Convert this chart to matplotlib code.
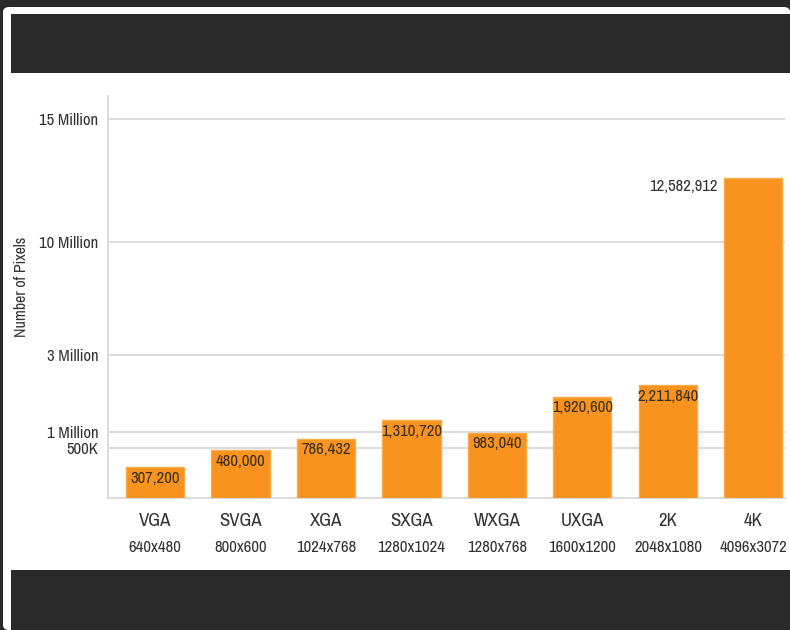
import numpy as np
import matplotlib
matplotlib.use('Agg')
import matplotlib.pyplot as plt
from matplotlib.patches import Rectangle, FancyBboxPatch

plt.rcParams['font.family'] = ['Archivo Narrow', 'DejaVu Sans']

# Data
names = ['VGA', 'SVGA', 'XGA', 'SXGA', 'WXGA', 'UXGA', '2K', '4K']
resolutions = ['640x480', '800x600', '1024x768', '1280x1024',
               '1280x768', '1600x1200', '2048x1080', '4096x3072']
pixels = [307200, 480000, 786432, 1310720, 983040, 1920600, 2211840, 12582912]

tick_values = [500000, 1000000, 3000000, 10000000, 15000000]
tick_labels = ['500K', '1 Million', '3 Million', '10 Million', '15 Million']

# the chart uses an uneven y axis: piecewise-linear scale through its ticks
scale_vals = np.array([0, 500000, 1000000, 3000000, 10000000, 15000000, 20000000])
scale_pos = np.array([0, 50, 66, 143, 256, 379, 500])


def fwd(v):
    return np.interp(v, scale_vals, scale_pos)


def inv(p):
    return np.interp(p, scale_pos, scale_vals)


bar_color = '#f7931e'
text_color = '#333333'
grid_color = '#dcdcdc'

W, H = 790, 630
fig = plt.figure(figsize=(W / 100, H / 100), dpi=100, facecolor='#2a2a2a')

# white card and dark bands of the screenshot
fig.patches.append(FancyBboxPatch((3 / W, 0), 787 / W, 623 / H,
                                  boxstyle='round,pad=0,rounding_size=0.008',
                                  transform=fig.transFigure, facecolor='white',
                                  edgecolor='none', zorder=-2))
fig.patches.append(Rectangle((11 / W, 1 - 73 / H), 779 / W, 59 / H,
                             transform=fig.transFigure, facecolor='#2a2a2a',
                             edgecolor='none', zorder=-1))
fig.patches.append(Rectangle((11 / W, 0), 779 / W, 60 / H,
                             transform=fig.transFigure, facecolor='#2a2a2a',
                             edgecolor='none', zorder=-1))

ax = fig.add_axes([108 / W, (H - 498) / H, 677 / W, 402 / H])
ax.set_zorder(2)
ax.set_facecolor('none')
ax.set_yscale('function', functions=(fwd, inv))

x = np.arange(len(names))
ax.bar(x, pixels, width=0.68, color=bar_color, edgecolor='#fbab4a',
       linewidth=1, zorder=3)

ax.set_xlim(-0.55, 7.37)
ax.set_ylim(0, inv(402))

ax.set_yticks(tick_values)
ax.set_yticklabels(tick_labels, fontsize=12, color=text_color)
ax.yaxis.set_minor_locator(matplotlib.ticker.NullLocator())
ax.tick_params(axis='y', length=0, pad=7)
ax.set_xticks([])
ax.yaxis.grid(True, color=grid_color, linewidth=1.5)
ax.set_axisbelow(True)

for s in ['top', 'right']:
    ax.spines[s].set_visible(False)
for s in ['left', 'bottom']:
    ax.spines[s].set_color(grid_color)
    ax.spines[s].set_linewidth(1.5)

# value labels
for i, v in enumerate(pixels[:-1]):
    ax.annotate(f'{v:,}', (x[i], v), xytext=(0, -8), textcoords='offset points',
                ha='center', va='center', fontsize=12, color='#3a3020', zorder=4)
ax.annotate(f'{pixels[-1]:,}', (x[-1] - 0.34, pixels[-1]), xytext=(-5, -6),
            textcoords='offset points', ha='right', va='center',
            fontsize=12, color=text_color)

# category labels
trans = ax.get_xaxis_transform()
for i in range(len(names)):
    ax.text(x[i], -23 / 402, names[i], transform=trans, ha='center', va='center',
            fontsize=13.5, color=text_color)
    ax.text(x[i], -50 / 402, resolutions[i], transform=trans, ha='center',
            va='center', fontsize=12, color=text_color)

fig.text(22 / W, 1 - 287 / H, 'Number of Pixels', rotation=90, ha='center',
         va='center', fontsize=11.5, color=text_color)

fig.savefig('out.png', dpi=100, facecolor=fig.get_facecolor())
